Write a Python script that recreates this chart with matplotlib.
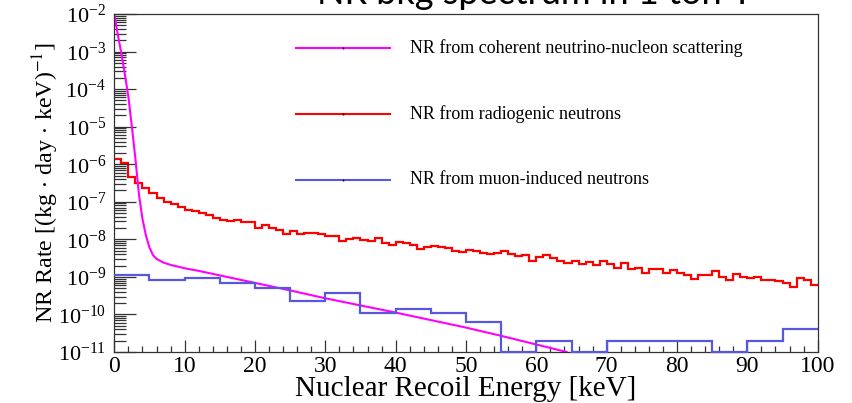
import numpy as np
import matplotlib.pyplot as plt
from matplotlib.ticker import LogLocator, MultipleLocator, NullFormatter

plt.rcParams['font.family'] = 'Liberation Serif'
plt.rcParams['mathtext.fontset'] = 'stix'

# radiogenic neutrons, 1 keV bins, log10 of rate
radio_edges = np.arange(0, 101, 1)
radio_log10 = [
    -5.85, -5.98, -6.34, -6.50, -6.62, -6.76, -6.89, -7.00, -7.07, -7.14,
    -7.23, -7.25, -7.31, -7.36, -7.42, -7.49, -7.52, -7.49, -7.54, -7.54,
    -7.69, -7.63, -7.71, -7.74, -7.85, -7.78, -7.87, -7.84, -7.83, -7.85,
    -7.90, -7.91, -8.05, -7.99, -7.97, -8.01, -8.05, -7.96, -8.09, -8.16,
    -8.08, -8.09, -8.14, -8.27, -8.20, -8.19, -8.20, -8.22, -8.31, -8.34,
    -8.29, -8.31, -8.36, -8.38, -8.36, -8.31, -8.39, -8.45, -8.42, -8.58,
    -8.47, -8.43, -8.51, -8.58, -8.62, -8.58, -8.65, -8.61, -8.69, -8.58,
    -8.65, -8.76, -8.64, -8.78, -8.76, -8.90, -8.78, -8.78, -8.90, -8.81,
    -8.90, -8.94, -9.05, -8.95, -8.94, -8.85, -8.99, -9.08, -8.92, -9.01,
    -9.03, -9.01, -9.09, -9.09, -9.10, -9.15, -9.27, -9.03, -9.07, -9.21,
]

# muon-induced neutrons, 5 keV bins
muon_edges = np.arange(0, 101, 5)
muon_rate = [
    1.1e-9, 8.2e-10, 9.3e-10, 7.0e-10, 5.1e-10,
    2.35e-10, 3.7e-10, 1.1e-10, 1.4e-10, 1.1e-10,
    6.3e-11, 1e-11, 2.0e-11, 1e-11, 2.0e-11,
    2.0e-11, 2.0e-11, 1e-11, 2.0e-11, 4.0e-11,
]

# coherent neutrino-nucleon scattering
cns_energy = [0, 0.5, 1, 1.5, 2, 2.5, 3, 3.5, 4, 4.5, 5, 5.5, 6, 7, 8, 10,
              12, 15, 20, 25, 30, 35, 40, 45, 50, 55, 60, 64.3]
cns_log10 = [-2.0, -2.55, -3.05, -3.6, -4.2, -5.0, -5.85, -6.8, -7.45, -7.9,
             -8.22, -8.42, -8.52, -8.62, -8.68, -8.77, -8.84, -8.96, -9.16,
             -9.36, -9.57, -9.76, -9.95, -10.15, -10.35, -10.57, -10.8, -11.0]

labels = ['NR from coherent neutrino-nucleon scattering',
          'NR from radiogenic neutrons',
          'NR from muon-induced neutrons']
colors = ['#ff00ff', '#ff0000', '#5858dc']

fig = plt.figure(figsize=(8.52, 4.03), dpi=100)
ax = fig.add_axes([114.3 / 852, 1 - 352 / 403, 703.4 / 852, 338 / 403])

ax.plot(cns_energy, 10 ** np.array(cns_log10), color=colors[0], lw=1.5)
ax.stairs(10 ** np.array(radio_log10), radio_edges, color=colors[1], lw=1.6,
          baseline=None)
ax.stairs(muon_rate, muon_edges, color=colors[2], lw=1.6, baseline=None,
          clip_on=False, zorder=3)

ax.set_yscale('log')
ax.set_xlim(0, 100)
ax.set_ylim(1e-11, 1e-2)

ax.xaxis.set_major_locator(MultipleLocator(10))
ax.xaxis.set_minor_locator(MultipleLocator(2))
ax.yaxis.set_major_locator(LogLocator(base=10, numticks=20))
ax.yaxis.set_minor_locator(LogLocator(base=10, subs=np.arange(2, 10), numticks=20))
ax.yaxis.set_minor_formatter(NullFormatter())

ax.tick_params(axis='both', which='both', direction='in', top=False, right=False,
               width=0.9, color='#333333')
ax.tick_params(axis='y', which='major', length=16, labelsize=16, pad=6)
ax.tick_params(axis='y', which='minor', length=8.5)
ax.tick_params(axis='x', which='major', length=8.5, labelsize=17, pad=3)
ax.tick_params(axis='x', which='minor', length=4.5)
for s in ax.spines.values():
    s.set_color('#333333')
    s.set_linewidth(0.9)

ax.set_xlabel('Nuclear Recoil Energy [keV]', fontsize=21, labelpad=-1)
ax.set_ylabel(r'NR Rate [(kg$\,\cdot\,$day$\,\cdot\,$keV)$^{-1}$]', fontsize=17.3,
              labelpad=-2)

# legend entries drawn inside the frame
for k, yl in enumerate([0.899, 0.704, 0.509]):
    ax.plot([0.258, 0.392], [yl, yl], color=colors[k], lw=1.5,
            transform=ax.transAxes)
    ax.plot([0.325], [yl], marker='|', ms=2, color='k', transform=ax.transAxes)
    ax.text(0.42, yl, labels[k], transform=ax.transAxes, fontsize=13,
            va='center', ha='left')

fig.text(535 / 852, 1 - 4 / 403, 'NR bkg spectrum in 1 ton Y', fontsize=26,
         family='Lato', ha='center', va='baseline')

fig.savefig('out.png', dpi=100)
